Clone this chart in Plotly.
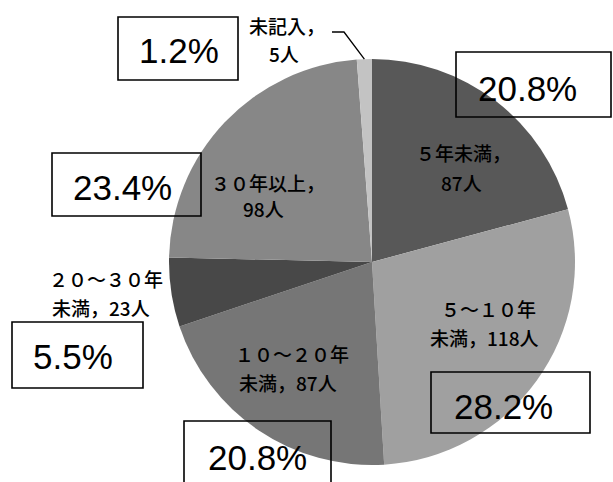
import math
import plotly.graph_objects as go

# Years of experience breakdown (respondents)
categories = ["５年未満", "５～１０年未満", "１０～２０年未満", "２０～３０年未満", "３０年以上", "未記入"]
counts = [87, 118, 87, 23, 98, 5]
colors = ["#585858", "#a0a0a0", "#767676", "#484848", "#878787", "#c3c3c3"]
# where each "name，N人" label wraps onto its second line
label_breaks = [5, 5, 6, 6, 6, 4]

W, H = 613, 482
CX, CY, R = 372, 262, 203


def px(x):
    return x / W


def py(y):
    return 1 - y / H


total = sum(counts)
pct_text = [f"{c / total * 100:.1f}%" for c in counts]

fig = go.Figure(
    go.Pie(
        labels=categories,
        values=counts,
        sort=False,
        direction="clockwise",
        rotation=0,
        marker=dict(colors=colors, line=dict(width=0)),
        textinfo="none",
        hoverinfo="label+value+percent",
        showlegend=False,
        domain=dict(x=[px(CX - R), px(CX + R)], y=[py(CY + R), py(CY - R)]),
    )
)

# two-line name/count labels
label_pos = [
    [(463, 152), (461, 182)],
    [(488, 308), (484, 337)],
    [(292, 353), (288, 382)],
    [(106, 278), (101, 307)],
    [(268, 182), (263, 208)],
    [(287, 25), (284, 53)],
]
jp_font = dict(family="Noto Sans CJK JP, sans-serif", size=19, color="black", weight=500)
annotations = []
for cat, n, k, pos in zip(categories, counts, label_breaks, label_pos):
    full = f"{cat}，{n}人"
    for line, (x, y) in zip([full[:k], full[k:]], pos):
        annotations.append(dict(
            x=px(x), y=py(y), xref="paper", yref="paper", text=line,
            showarrow=False, xanchor="center", yanchor="middle", font=jp_font,
        ))

# framed percentage callouts
pct_boxes = [
    (456, 52, 611, 117),
    (431, 372, 590, 433),
    (184, 421, 331, 495),
    (12, 322, 143, 388),
    (52, 153, 201, 216),
    (118, 17, 238, 80),
]
pct_centers = [(527, 88), (503, 406), (257, 457), (73, 356), (122, 188), (179, 51)]
shapes = []
for txt, (x0, y0, x1, y1), (tx, ty) in zip(pct_text, pct_boxes, pct_centers):
    shapes.append(dict(
        type="rect", xref="paper", yref="paper",
        x0=px(x0), x1=px(x1), y0=py(y1), y1=py(y0),
        line=dict(color="black", width=1.6), fillcolor="rgba(0,0,0,0)",
    ))
    annotations.append(dict(
        x=px(tx), y=py(ty), xref="paper", yref="paper", text=txt,
        showarrow=False, xanchor="center", yanchor="middle",
        font=dict(family="Liberation Sans, Arial, sans-serif", size=35, color="black"),
    ))

# leader line for the thin "未記入" slice, ending at its mid-angle on the rim
mid_frac = (total - counts[-1] / 2) / total
ang = 2 * math.pi * mid_frac
ex, ey = CX + R * math.sin(ang), CY - R * math.cos(ang)
shapes.append(dict(
    type="path", xref="paper", yref="paper",
    path=f"M {px(332)} {py(32)} L {px(344)} {py(32)} L {px(ex)} {py(ey)}",
    line=dict(color="black", width=1.3),
))

fig.update_layout(
    width=W, height=H,
    margin=dict(l=0, r=0, t=0, b=0),
    paper_bgcolor="white", plot_bgcolor="white",
    annotations=annotations, shapes=shapes,
)

fig.write_html("out.html")
